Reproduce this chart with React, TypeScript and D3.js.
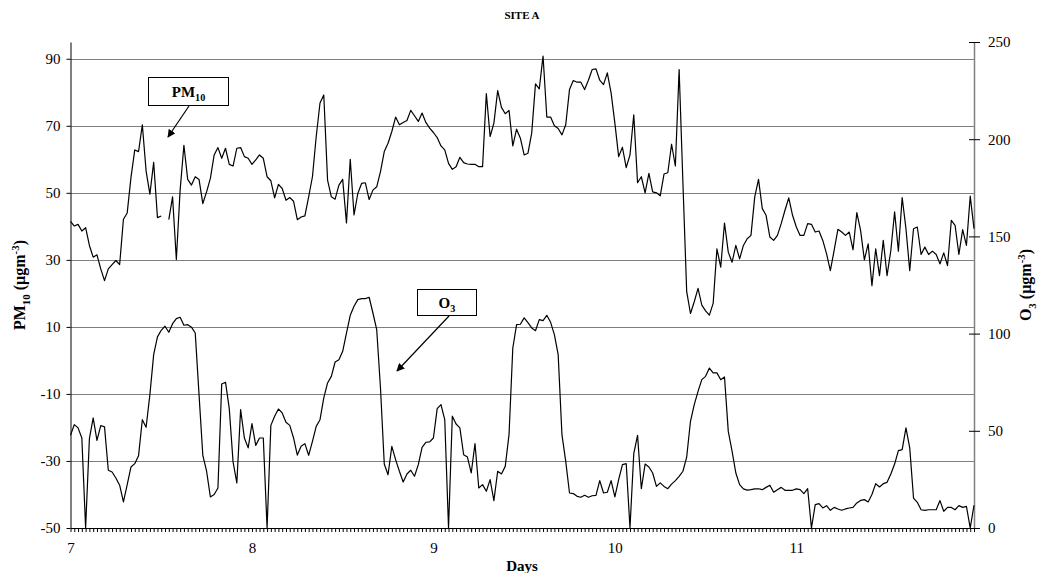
import { useEffect, useRef } from 'react';
import * as d3 from 'd3';

// x axis: half-hourly readings, 48 per day, days 7 to 11
const dayLabels = ['7', '8', '9', '10', '11'];
const pointsPerDay = 48;

const pm10Ticks = [-50, -30, -10, 10, 30, 50, 70, 90];
const o3Ticks = [0, 50, 100, 150, 200, 250];

// PM10 (left axis), one missing reading
const pm10: (number | null)[] = [
  41.5, 40.1, 40.6, 38.6, 39.6, 34.3, 30.8, 31.5, 27.3, 23.8,
  27.3, 28.6, 29.8, 28.6, 42.1, 44, 54.6, 62.8, 62.3, 70.3,
  56.5, 49.6, 59.1, 42.6, 43.1, null, 42, 48.8, 30.1, 50.8,
  64.2, 54, 52.3, 54.8, 54, 46.8, 50.3, 54.3, 61.3, 63.5,
  60.3, 63.3, 58.5, 58, 63.3, 63.5, 60.8, 60.3, 58.5, 59.8,
  61.3, 60.3, 54.8, 53.6, 48.5, 52.5, 51.3, 47.8, 48.6, 47.5,
  42, 42.8, 43.1, 48.8, 54.8, 66.8, 76.8, 79.2, 53.8, 48.8,
  48.1, 52.3, 54, 41, 60, 43.4, 49.8, 52.8, 53, 48,
  50.8, 51.8, 56.3, 62.3, 64.8, 68.3, 72.6, 70.3, 71, 71.6,
  74.6, 73, 71.3, 73.8, 71, 69.3, 68, 66.5, 64, 62.8,
  58.8, 57, 57.8, 60.6, 59, 58.6, 58.5, 58.5, 57.8, 57.8,
  79.6, 66.8, 70.8, 80.5, 75.5, 73.6, 74.6, 64, 69, 66.3,
  61.3, 61.8, 67.8, 82.5, 81, 90.8, 72.6, 72.6, 70, 69.2,
  67.3, 70.3, 80.8, 83.5, 83, 83, 80.8, 83.6, 86.8, 87,
  83.6, 82.3, 85.8, 79.8, 70.8, 60.8, 63.6, 57.5, 61.3, 73.3,
  53, 54.8, 50, 55.8, 50.3, 50, 49.1, 55.6, 56, 64.5,
  58, 86.8, 53, 20.5, 14, 17.5, 21.5, 16.5, 14.8, 13.5,
  17, 33.3, 27.8, 41, 32.3, 29.3, 34.3, 30.3, 34.3, 36.3,
  37.3, 48.8, 54, 45.3, 43.3, 36.8, 35.8, 37.3, 40.8, 44.8,
  48.5, 43.3, 39.8, 37.3, 37.3, 40.8, 40.6, 38.3, 38.6, 35.8,
  31.8, 26.8, 32.8, 39.1, 38.3, 37.3, 38.3, 33, 44.1, 38.8,
  30, 34.8, 22.3, 33.3, 25.3, 35.8, 25.3, 32.8, 44.3, 32.6,
  48.6, 39.3, 26.8, 39.3, 39.8, 31.6, 33.8, 31.6, 32.6, 31.6,
  28.8, 32.1, 28.3, 41.8, 40.3, 31.6, 39, 34.3, 49, 39.3,
];

// O3 (right axis)
const o3: number[] = [
  47.7, 53.2, 51.5, 46.3, 0, 46, 56.6, 45.1, 52.7, 52,
  29.7, 28.8, 25.7, 22, 13.4, 22.3, 31.4, 33.1, 37.2, 55.7,
  51.8, 68.6, 89.2, 98.3, 101.7, 103.8, 100.7, 105.1, 107.7, 108.4,
  104.3, 104.6, 103.3, 100.3, 68.6, 37.4, 29.2, 16, 17.2, 20.6,
  74.1, 75, 61.4, 34, 23.2, 60.9, 46.3, 41.2, 53.7, 42.5,
  46.3, 46.3, 0, 52.8, 57.5, 61.2, 59.2, 54.4, 52.8, 46.3,
  37.5, 42, 43.4, 37.4, 44.6, 52.3, 55.7, 66.9, 74.6, 78,
  85.4, 86.6, 90.9, 100.3, 109.4, 114.1, 117.5, 118, 118, 118.7,
  110.6, 102.1, 72, 32.9, 27.4, 42, 35.2, 29.2, 23.7, 27.8,
  29.7, 26.6, 32.6, 41.5, 44.1, 44.3, 46.3, 61.4, 63.5, 55.7,
  0, 57.5, 53.5, 51.5, 37.7, 36.5, 28.3, 43.4, 20.6, 22.3,
  18.9, 24.9, 14.1, 29.2, 27.8, 31.7, 48, 92.6, 104.6, 104.8,
  108.1, 105.6, 102.9, 101.5, 107.2, 106.7, 109.4, 105.8, 99.5, 89.2,
  48, 34.3, 18, 17.7, 16.3, 15.8, 16.8, 15.8, 16.6, 16.8,
  24.4, 18, 18.4, 24.4, 16, 24.9, 32.6, 33.1, 0, 38.3,
  47.7, 20.2, 32.9, 31.4, 28.3, 21.4, 23.2, 21.4, 20.2, 22.6,
  24.4, 26.6, 29.2, 36.5, 54.9, 63.5, 70.3, 76.3, 78, 82.3,
  79.8, 79.8, 76.3, 77.7, 49.7, 39.5, 28.3, 22.3, 20.1, 19.5,
  19.7, 20.1, 20.2, 19.7, 20.9, 22, 18.4, 19.7, 20.9, 19.4,
  19.4, 19.4, 20.1, 19.7, 17.7, 20.2, 0, 12, 12.5, 10.3,
  11.5, 9.1, 10.6, 9.8, 9.1, 9.8, 10.3, 10.6, 12.9, 14.2,
  14.6, 13.4, 17.2, 22.8, 21.1, 22.8, 23.5, 27.8, 32.9, 39.8,
  40.3, 51.5, 41.2, 15.4, 13.2, 9.4, 9.1, 9.4, 9.4, 9.4,
  14.1, 8.6, 10.6, 10.6, 9.4, 11.5, 10.6, 11.1, 0, 11.7,
];

const W = 1039;
const H = 573;
const FONT = "'Liberation Serif', 'Times New Roman', serif";

// write text with sub / superscript pieces
function rich(sel, parts, size) {
  let shift = 0;
  parts.forEach(([txt, kind]) => {
    const target = kind === 'sub' ? size * 0.3 : kind === 'sup' ? -size * 0.4 : 0;
    sel.append('tspan')
      .attr('dy', target - shift)
      .attr('font-size', kind ? size * 0.68 : size)
      .text(txt);
    shift = target;
  });
}

export default function App() {
  const svgRef = useRef<SVGSVGElement>(null);

  useEffect(() => {
    if (!svgRef.current) return;
    const svg = d3.select(svgRef.current);
    svg.selectAll('*').remove();

    const left = 70.5, right = 974, top = 42, bottom = 528;

    const x = d3.scaleLinear().domain([0, o3.length - 1]).range([left, right]);
    const yL = d3.scaleLinear().domain([-50, 95]).range([bottom, top]);
    const yR = d3.scaleLinear().domain([0, 250]).range([bottom, top]);

    svg.append('rect').attr('width', W).attr('height', H).attr('fill', '#fff');

    // horizontal gridlines
    svg.append('g')
      .selectAll('line')
      .data(pm10Ticks.filter(t => t > -50))
      .join('line')
      .attr('x1', left).attr('x2', right)
      .attr('y1', d => Math.round(yL(d)) + 0.5)
      .attr('y2', d => Math.round(yL(d)) + 0.5)
      .attr('stroke', '#7f7f7f')
      .attr('stroke-width', 1);

    // left axis
    const gL = svg.append('g')
      .attr('transform', `translate(${left},0)`)
      .call(d3.axisLeft(yL).tickValues(pm10Ticks).tickSize(4).tickSizeOuter(0).tickPadding(6)
        .tickFormat(d => String(d)));
    gL.select('.domain').attr('stroke', '#000');
    gL.selectAll('text').attr('font-family', FONT).attr('font-size', 15).attr('fill', '#000');

    // right axis (ticks cross the line)
    const gR = svg.append('g')
      .attr('transform', `translate(${right},0)`)
      .call(d3.axisRight(yR).tickValues(o3Ticks).tickSize(6).tickSizeOuter(0).tickPadding(8)
        .tickFormat(d => String(d)));
    gR.select('.domain').attr('stroke', '#808080').attr('stroke-width', 1.5);
    gR.selectAll('.tick line').attr('x1', -5).attr('stroke', '#000');
    gR.selectAll('text').attr('font-family', FONT).attr('font-size', 15).attr('fill', '#000');

    // bottom axis: a tick for every reading, label every day
    const gX = svg.append('g')
      .attr('transform', `translate(0,${bottom})`)
      .call(d3.axisBottom(x)
        .tickValues(d3.range(0, o3.length))
        .tickSize(4)
        .tickSizeOuter(0)
        .tickPadding(10)
        .tickFormat(i => (i % pointsPerDay === 0 ? dayLabels[i / pointsPerDay] : '')));
    gX.select('.domain').attr('stroke', '#000');
    gX.selectAll('.tick line').attr('stroke', '#000').attr('stroke-width', 1);
    gX.selectAll('text').attr('font-family', FONT).attr('font-size', 15).attr('fill', '#000');

    // series
    const pmLine = d3.line<number | null>()
      .defined(d => d != null)
      .x((d, i) => x(i))
      .y(d => yL(d as number));
    const o3Line = d3.line<number>()
      .x((d, i) => x(i))
      .y(d => yR(d));

    svg.append('path').datum(pm10).attr('d', pmLine)
      .attr('fill', 'none').attr('stroke', '#000').attr('stroke-width', 1.2).attr('stroke-linejoin', 'round');
    svg.append('path').datum(o3).attr('d', o3Line)
      .attr('fill', 'none').attr('stroke', '#000').attr('stroke-width', 1.2).attr('stroke-linejoin', 'round');

    // arrowhead
    svg.append('defs').append('marker')
      .attr('id', 'arrow')
      .attr('viewBox', '0 0 10 10')
      .attr('refX', 9).attr('refY', 5)
      .attr('markerWidth', 8).attr('markerHeight', 8)
      .attr('markerUnits', 'userSpaceOnUse')
      .attr('orient', 'auto')
      .append('path').attr('d', 'M0,0 L10,5 L0,10 z').attr('fill', '#000');

    // callout boxes
    const callouts = [
      { box: [148.5, 77.5, 80, 28], parts: [['PM', null], ['10', 'sub']], arrow: [189, 106, 168, 137] },
      { box: [417.5, 289.5, 59, 26], parts: [['O', null], ['3', 'sub']], arrow: [449, 316, 397, 371] },
    ];
    callouts.forEach(c => {
      const [bx, by, bw, bh] = c.box;
      svg.append('rect').attr('x', bx).attr('y', by).attr('width', bw).attr('height', bh)
        .attr('fill', '#fff').attr('stroke', '#000').attr('stroke-width', 1);
      const t = svg.append('text')
        .attr('x', bx + bw / 2).attr('y', by + bh / 2 + 5)
        .attr('text-anchor', 'middle')
        .attr('font-family', FONT).attr('font-weight', 'bold');
      rich(t, c.parts, 15);
      const [x1, y1, x2, y2] = c.arrow;
      svg.append('line').attr('x1', x1).attr('y1', y1).attr('x2', x2).attr('y2', y2)
        .attr('stroke', '#000').attr('stroke-width', 1.2).attr('marker-end', 'url(#arrow)');
    });

    // titles
    svg.append('text').attr('x', 522).attr('y', 19).attr('text-anchor', 'middle')
      .attr('font-family', FONT).attr('font-weight', 'bold').attr('font-size', 11).text('SITE A');
    svg.append('text').attr('x', 522).attr('y', 571).attr('text-anchor', 'middle')
      .attr('font-family', FONT).attr('font-weight', 'bold').attr('font-size', 15).text('Days');

    const yTitleL = svg.append('text')
      .attr('transform', `translate(25,${(top + bottom) / 2}) rotate(-90)`)
      .attr('text-anchor', 'middle')
      .attr('font-family', FONT).attr('font-weight', 'bold');
    rich(yTitleL, [['PM', null], ['10', 'sub'], [' (µgm', null], ['-3', 'sup'], [')', null]], 16);

    const yTitleR = svg.append('text')
      .attr('transform', `translate(1031,${(top + bottom) / 2}) rotate(-90)`)
      .attr('text-anchor', 'middle')
      .attr('font-family', FONT).attr('font-weight', 'bold');
    rich(yTitleR, [['O', null], ['3', 'sub'], [' (µgm', null], ['-3', 'sup'], [')', null]], 16);
  }, []);

  return (
    <svg
      ref={svgRef}
      width={W}
      height={H}
      style={{ display: 'block', position: 'absolute', left: 0, top: 0 }}
    />
  );
}
